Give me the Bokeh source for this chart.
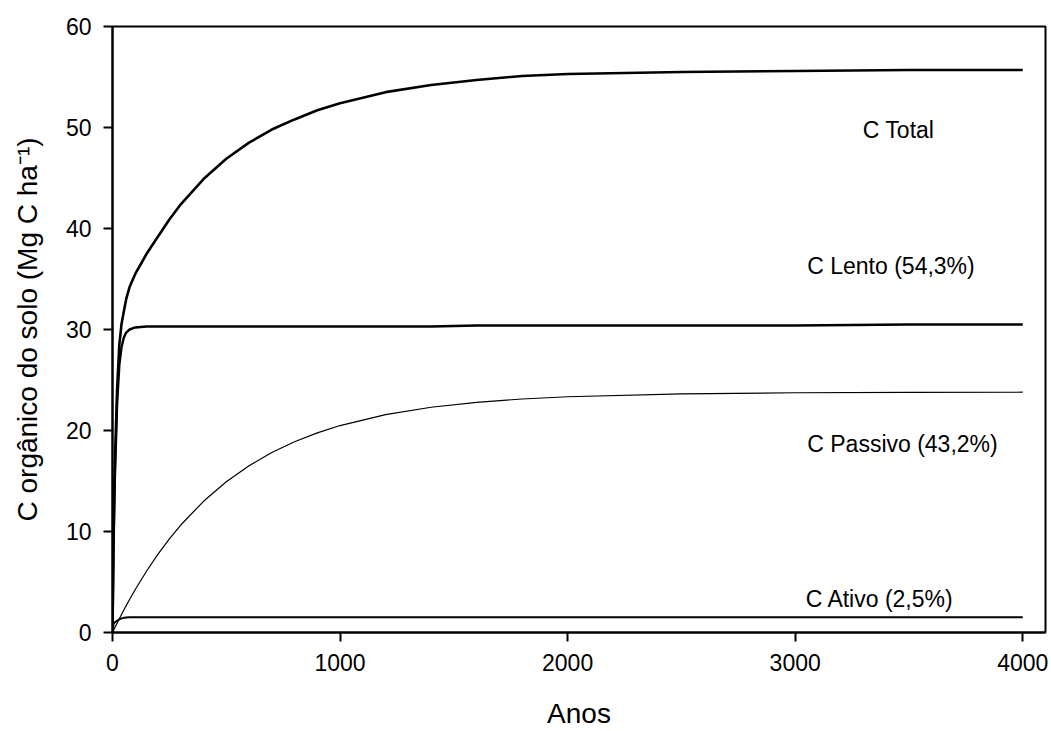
from bokeh.plotting import figure
from bokeh.models import Range1d, FixedTicker
from bokeh.core.properties import value
from bokeh.embed import file_html
from bokeh.resources import INLINE

# ---- data ----
anos = [0, 5, 10, 20, 30, 40, 50, 60, 75, 100, 150, 200, 250, 300, 400, 500,
        600, 700, 800, 900, 1000, 1200, 1400, 1600, 1800, 2000, 2500, 3000, 3500, 4000]

c_total = [0, 10.0, 16.3, 24.0, 28.5, 30.6, 31.8, 33.0, 34.2, 35.5, 37.5, 39.2,
           40.9, 42.4, 44.9, 46.9, 48.5, 49.8, 50.8, 51.7, 52.4, 53.5, 54.2,
           54.7, 55.1, 55.3, 55.5, 55.6, 55.7, 55.7]

c_lento = [0, 9.0, 15.0, 22.5, 26.5, 28.3, 29.2, 29.7, 30.0, 30.2, 30.3, 30.3,
           30.3, 30.3, 30.3, 30.3, 30.3, 30.3, 30.3, 30.3, 30.3, 30.3, 30.3,
           30.4, 30.4, 30.4, 30.4, 30.4, 30.5, 30.5]

c_passivo = [0, 0.23, 0.47, 0.92, 1.37, 1.81, 2.23, 2.66, 3.27, 4.26, 6.09, 7.76,
             9.26, 10.64, 12.99, 14.92, 16.51, 17.82, 18.89, 19.77, 20.49, 21.57,
             22.30, 22.79, 23.12, 23.34, 23.63, 23.74, 23.78, 23.79]

c_ativo = [0, 0.9, 1.0, 1.15, 1.3, 1.4, 1.45, 1.48, 1.5, 1.5, 1.5, 1.5, 1.5, 1.5,
           1.5, 1.5, 1.5, 1.5, 1.5, 1.5, 1.5, 1.5, 1.5, 1.5, 1.5, 1.5, 1.5, 1.5,
           1.5, 1.5]

rotulos = ["C Total", "C Lento (54,3%)", "C Passivo (43,2%)", "C Ativo (2,5%)"]

x_ticks = [0, 1000, 2000, 3000, 4000]
y_ticks = [0, 10, 20, 30, 40, 50, 60]

FONT = "Liberation Sans"

p = figure(width=1048, height=731, output_backend="svg", toolbar_location=None,
           x_range=Range1d(0, 4100), y_range=Range1d(0, 60),
           min_border_left=112, min_border_top=26, min_border_right=3,
           min_border_bottom=96)

p.xgrid.visible = False
p.ygrid.visible = False
p.outline_line_color = "black"
p.outline_line_width = 2
p.background_fill_color = "white"
p.border_fill_color = "white"

p.line(anos, c_total, line_color="black", line_width=2.6, line_join="round")
p.line(anos, c_lento, line_color="black", line_width=2.4, line_join="round")
p.line(anos, c_passivo, line_color="black", line_width=1.2, line_join="round")
p.line(anos, c_ativo, line_color="black", line_width=2.0, line_join="round")

# labels
p.text(x=[3297], y=[49.75], text=[rotulos[0]], text_font=value(FONT),
       text_font_size="23px", text_color="black", text_baseline="alphabetic")
p.text(x=[3053, 3053, 3046], y=[36.3, 18.7, 3.28], text=rotulos[1:],
       text_font=value(FONT), text_font_size="23px", text_color="black",
       text_baseline="alphabetic")

for ax in (p.xaxis[0], p.yaxis[0]):
    ax.axis_line_width = 2
    ax.axis_line_color = "black"
    ax.major_tick_line_width = 2
    ax.major_tick_line_color = "black"
    ax.major_tick_in = 0
    ax.major_tick_out = 9
    ax.minor_tick_line_color = None
    ax.major_label_text_font = FONT
    ax.major_label_text_font_size = "23px"
    ax.major_label_text_color = "black"
    ax.axis_label_text_font = FONT
    ax.axis_label_text_font_size = "28px"
    ax.axis_label_text_font_style = "normal"
    ax.axis_label_text_color = "black"

p.xaxis.ticker = FixedTicker(ticks=x_ticks)
p.yaxis.ticker = FixedTicker(ticks=y_ticks)
p.xaxis.axis_label = "Anos"
p.yaxis.axis_label = "C orgânico do solo (Mg C ha⁻¹)"
p.xaxis.major_label_standoff = 12
p.xaxis.axis_label_standoff = 24
p.yaxis.major_label_standoff = 12
p.yaxis.axis_label_standoff = 20

open("out.html", "w").write(file_html(p, INLINE))
